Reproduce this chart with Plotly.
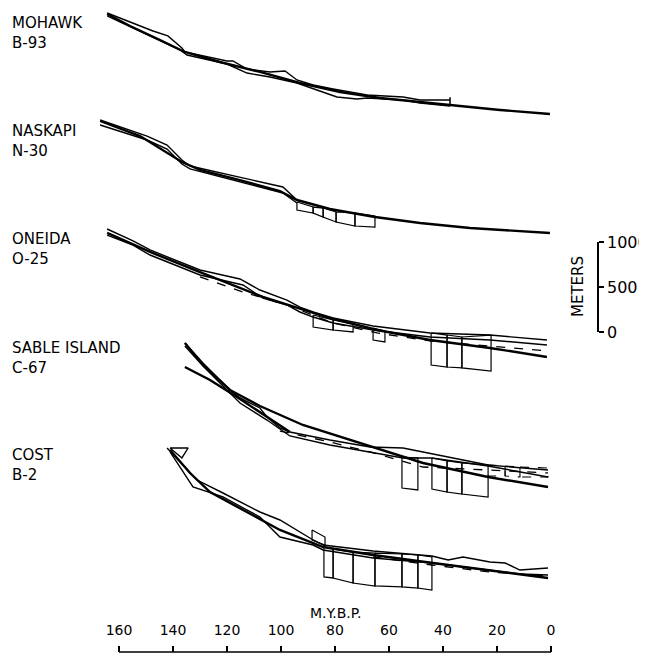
import plotly.graph_objects as go

# ---------------- data (age in Ma, depth in metres below each well's start) ----------------
wells = ["MOHAWK<br>B-93", "NASKAPI<br>N-30", "ONEIDA<br>O-25", "SABLE ISLAND<br>C-67", "COST<br>B-2"]
age_ticks = [160, 140, 120, 100, 80, 60, 40, 20, 0]
scale_ticks = [0, 500, 1000]

# MOHAWK B-93
moh_theory_t = [164.4, 155.9, 144.8, 135.6, 122.6, 107.8, 93.0, 78.1, 63.3, 48.5, 36.3, 18.9, 0.4]
moh_theory_d = [0, 133, 289, 422, 533, 644, 767, 867, 933, 978, 1022, 1067, 1111]
moh_up_t = [164.4, 147.4, 141.9, 136.7, 135.6, 120.0, 117.8, 112.6, 104.1, 98.5, 94.1, 88.1, 80.7, 68.1, 54.8, 48.5, 37.4]
moh_up_d = [-11, 189, 244, 378, 422, 522, 522, 611, 644, 633, 733, 789, 833, 900, 922, 956, 956]
moh_lo_t = [164.4, 148.5, 137.4, 134.8, 120.0, 112.6, 104.1, 94.1, 88.1, 79.3, 71.9, 68.1, 54.8, 48.5, 37.4]
moh_lo_d = [22, 244, 400, 456, 556, 656, 700, 767, 833, 922, 944, 933, 956, 989, 1022]

# NASKAPI N-30
nas_theory_t = [167.0, 152.2, 136.7, 130.0, 115.2, 100.4, 94.1, 81.9, 65.2, 48.5, 30.0, 0.4]
nas_theory_d = [0, 167, 456, 544, 656, 778, 878, 978, 1067, 1133, 1189, 1244]
nas_up_t = [167.0, 149.6, 142.2, 136.7, 133.7, 115.2, 99.3, 94.1]
nas_up_d = [-11, 167, 267, 433, 500, 622, 733, 878]
nas_lo_t = [167.0, 149.6, 142.2, 136.7, 133.7, 115.2, 99.3, 94.1]
nas_lo_d = [44, 211, 311, 478, 533, 678, 800, 911]
nas_box_t = [94.1, 88.1, 84.4, 79.6, 72.6, 65.2]
nas_box_top = [900, 956, 967, 1011, 1022, 1056]
nas_box_bot = [989, 1022, 1067, 1122, 1167, 1178]

# ONEIDA O-25
one_theory_t = [164.4, 148.5, 130.0, 106.7, 81.9, 64.4, 44.8, 22.6, 1.5]
one_theory_d = [33, 244, 467, 744, 978, 1111, 1222, 1311, 1411]
one_up_t = [164.4, 154.8, 148.5, 130.0, 115.2, 107.8, 97.8, 93.0, 88.1, 80.7, 65.9, 44.8, 22.6, 1.5]
one_up_d = [-11, 122, 222, 444, 544, 667, 778, 856, 911, 978, 1067, 1144, 1167, 1222]
one_lo_t = [164.4, 154.8, 148.5, 130.0, 114.1, 106.7, 97.8, 93.0, 88.1, 80.7, 65.9, 44.8, 22.6, 1.5]
one_lo_d = [56, 167, 278, 500, 611, 756, 833, 911, 967, 1033, 1111, 1189, 1222, 1278]
one_dash_t = [130.0, 114.1, 97.8, 80.7, 64.4, 44.8, 22.6, 1.5]
one_dash_d = [522, 689, 833, 1033, 1144, 1233, 1289, 1344]
one_boxA_t = [88.1, 80.7, 73.3]
one_boxA_top = [944, 1000, 1044]
one_boxA_bot = [1078, 1111, 1133]
one_boxB_t = [65.9, 61.5]
one_boxB_top = [1089, 1122]
one_boxB_bot = [1222, 1244]
one_boxC_t = [44.4, 38.5, 33.0, 22.2]
one_boxC_top = [1144, 1167, 1189, 1167]
one_boxC_bot = [1500, 1522, 1533, 1567]

# SABLE ISLAND C-67
sab_theory_t = [135.6, 128.9, 118.9, 107.8, 91.9, 71.9, 47.4, 23.3, 1.1]
sab_theory_d = [0, 244, 522, 700, 911, 1100, 1333, 1489, 1600]
sab_line2_t = [135.6, 126.3, 116.3, 105.2, 96.7]
sab_line2_d = [267, 411, 600, 822, 989]
sab_up_t = [135.6, 128.9, 118.9, 115.2, 107.8, 105.2, 100.4, 96.7, 81.9, 67.0, 54.8, 44.1, 33.0, 23.3, 1.1]
sab_up_d = [0, 222, 522, 611, 722, 822, 944, 989, 1078, 1156, 1167, 1233, 1300, 1356, 1411]
sab_lo_t = [135.6, 128.9, 118.9, 115.2, 105.2, 96.7, 81.9, 67.0, 54.8, 44.1, 23.3, 1.1]
sab_lo_d = [33, 256, 556, 667, 856, 1033, 1133, 1211, 1278, 1278, 1367, 1489]
sab_dash_t = [100.4, 81.9, 67.0, 47.4, 23.3, 1.1]
sab_dash_d = [978, 1100, 1211, 1378, 1411, 1444]
sab_boxA_t = [55.2, 49.3]
sab_boxA_top = [1267, 1278]
sab_boxA_bot = [1611, 1633]
sab_boxB_t = [44.1, 38.5, 33.0, 23.3]
sab_boxB_top = [1278, 1311, 1333, 1356]
sab_boxB_bot = [1622, 1656, 1678, 1711]
sab_boxC_t = [23.3, 17.0, 11.5, 1.1]
sab_boxC_top = [1356, 1367, 1378, 1389]
sab_boxC_bot = [1478, 1478, 1489, 1489]

# COST B-2
cos_tri_t = [141.1, 134.4, 136.7, 141.1]
cos_tri_d = [0, 0, 111, 0]
cos_theory_t = [141.1, 133.7, 126.3, 114.1, 100.4, 84.4, 65.9, 43.7, 18.9, 1.1]
cos_theory_d = [22, 278, 489, 689, 911, 1100, 1189, 1278, 1378, 1444]
cos_up_t = [142.2, 133.7, 131.1, 121.5, 107.8, 100.4, 88.1, 84.4, 65.9, 44.1, 38.1, 32.6, 22.6, 17.0, 11.5, 1.1]
cos_up_d = [0, 267, 356, 500, 711, 800, 1022, 1078, 1144, 1200, 1244, 1211, 1267, 1278, 1356, 1333]
cos_lo_t = [141.1, 132.6, 121.5, 107.8, 100.4, 88.1, 84.4, 65.9, 44.1, 22.6, 11.5, 1.1]
cos_lo_d = [44, 433, 544, 767, 989, 1078, 1133, 1222, 1278, 1356, 1400, 1411]
cos_dash_t = [65.9, 44.1, 22.6, 1.1]
cos_dash_d = [1211, 1300, 1378, 1422]
cos_boxA_t = [88.5, 83.7]
cos_boxA_top = [911, 989]
cos_boxA_bot = [1022, 1078]
cos_boxB_t = [84.1, 80.7, 73.3, 65.2, 55.2, 49.3, 44.1]
cos_boxB_top = [1100, 1122, 1156, 1167, 1178, 1189, 1211]
cos_boxB_bot = [1433, 1444, 1500, 1533, 1544, 1556, 1578]

# ---------------- layout constants ----------------
PAGE_W, PAGE_H = 647, 665
BODY = 8                              # default page margin around the plot div
W, H = PAGE_W - BODY, PAGE_H - BODY
PX_PER_M = 0.09                       # 1000 m on the scale bar = 90 px
YMAX = H / PX_PER_M
X_LEFT = 160 + (119 - BODY) / 2.7     # age at the left edge of the figure
X_RIGHT = 160 - (PAGE_W - 119) / 2.7  # age at the right edge
offsets = [(PAGE_H - y0) / PX_PER_M for y0 in (14, 121, 230, 343, 448)]
label_y = [33.5, 141.5, 249, 358, 464.5]


def fx(px):
    return (px - BODY) / W


def fy(py):
    return (H - (py - BODY)) / H


fig = go.Figure()
BLK = "black"


def line(t, d, off, width=1.4, dash="solid"):
    fig.add_trace(go.Scatter(x=t, y=[off - v for v in d], mode="lines",
                             line=dict(color=BLK, width=width, dash=dash),
                             hoverinfo="skip", showlegend=False))


def boxes(t, top, bot, off, width=1.2, dash="solid"):
    xs, ys = [], []
    for i in range(len(t) - 1):
        xs += [t[i], t[i + 1], t[i + 1], t[i], t[i], None]
        ys += [off - top[i], off - top[i + 1], off - bot[i + 1], off - bot[i], off - top[i], None]
    fig.add_trace(go.Scatter(x=xs, y=ys, mode="lines", connectgaps=False,
                             line=dict(color=BLK, width=width, dash=dash),
                             hoverinfo="skip", showlegend=False))


TH = 2.4
# Mohawk
o = offsets[0]
line(moh_up_t, moh_up_d, o)
line(moh_lo_t, moh_lo_d, o)
line(moh_theory_t, moh_theory_d, o, TH)
line([moh_up_t[-1], moh_lo_t[-1]], [moh_up_d[-1] - 30, moh_lo_d[-1]], o, 1.5)

# Naskapi
o = offsets[1]
line(nas_up_t, nas_up_d, o)
line(nas_lo_t, nas_lo_d, o)
boxes(nas_box_t, nas_box_top, nas_box_bot, o)
line(nas_theory_t, nas_theory_d, o, TH)

# Oneida
o = offsets[2]
line(one_up_t, one_up_d, o)
line(one_lo_t, one_lo_d, o)
line(one_dash_t, one_dash_d, o, 1.3, "dash")
boxes(one_boxA_t, one_boxA_top, one_boxA_bot, o)
boxes(one_boxB_t, one_boxB_top, one_boxB_bot, o)
boxes(one_boxC_t, one_boxC_top, one_boxC_bot, o)
line(one_theory_t, one_theory_d, o, TH)

# Sable Island
o = offsets[3]
line(sab_up_t, sab_up_d, o)
line(sab_lo_t, sab_lo_d, o)
line(sab_dash_t, sab_dash_d, o, 1.3, "dash")
boxes(sab_boxA_t, sab_boxA_top, sab_boxA_bot, o)
boxes(sab_boxB_t, sab_boxB_top, sab_boxB_bot, o)
boxes(sab_boxC_t, sab_boxC_top, sab_boxC_bot, o, 1.1, "dash")
line(sab_line2_t, sab_line2_d, o, TH)
line(sab_theory_t, sab_theory_d, o, TH)

# COST
o = offsets[4]
line(cos_tri_t, cos_tri_d, o, 1.4)
line(cos_up_t, cos_up_d, o)
line(cos_lo_t, cos_lo_d, o)
line(cos_dash_t, cos_dash_d, o, 1.3, "dash")
boxes(cos_boxA_t, cos_boxA_top, cos_boxA_bot, o)
boxes(cos_boxB_t, cos_boxB_top, cos_boxB_bot, o)
line(cos_theory_t, cos_theory_d, o, TH)

# dummy trace to attach the metre scale bar axis
fig.add_trace(go.Scatter(x=[None], y=[None], xaxis="x", yaxis="y2",
                         mode="lines", showlegend=False, hoverinfo="skip"))

FONT = "DejaVu Sans"
axis_y = fy(652)
fig.update_layout(
    template="none",
    width=W, height=H,
    margin=dict(l=0, r=0, t=0, b=0, pad=0),
    paper_bgcolor="white", plot_bgcolor="rgba(0,0,0,0)",
    showlegend=False,
    font=dict(family=FONT, color=BLK, size=14),
    xaxis=dict(range=[X_LEFT, X_RIGHT], domain=[0, 1], anchor="free", position=axis_y,
               side="top", tickmode="array", tickvals=age_ticks,
               ticktext=[str(v) for v in age_ticks], ticks="outside", ticklen=6,
               tickwidth=1.6, tickcolor=BLK, showline=False, showgrid=False,
               zeroline=False, automargin=False, tickfont=dict(size=14, family=FONT),
               ticklabelstandoff=5),
    yaxis=dict(range=[0, YMAX], domain=[0, 1], visible=False, fixedrange=True,
               automargin=False),
    yaxis2=dict(range=[0, 1000], domain=[fy(332), fy(242)],
                anchor="free", position=fx(598), side="right",
                tickmode="array", tickvals=scale_ticks,
                ticktext=[str(v) for v in scale_ticks],
                ticks="outside", ticklen=5, tickwidth=1.6, tickcolor=BLK,
                showline=True, linewidth=1.6, linecolor=BLK,
                showgrid=False, zeroline=False, automargin=False,
                tickfont=dict(size=16, family=FONT)),
)

# x axis baseline from 160 to 0
fig.add_shape(type="line", xref="x", yref="paper", x0=age_ticks[0], x1=age_ticks[-1],
              y0=axis_y, y1=axis_y, line=dict(color=BLK, width=1.6))

fig.add_annotation(text="M.Y.B.P.", xref="x", yref="paper", x=80, y=fy(613),
                   showarrow=False, font=dict(size=14, family=FONT),
                   xanchor="center", yanchor="middle")
fig.add_annotation(text="METERS", xref="paper", yref="paper", x=fx(578), y=fy(287),
                   textangle=-90, showarrow=False, font=dict(size=15, family=FONT),
                   xanchor="center", yanchor="middle")

for name, ly in zip(wells, label_y):
    fig.add_annotation(text=name, xref="paper", yref="paper", x=fx(10), y=fy(ly),
                       xanchor="left", yanchor="middle", align="left", showarrow=False,
                       font=dict(size=15, family=FONT))

fig.write_html("out.html")
